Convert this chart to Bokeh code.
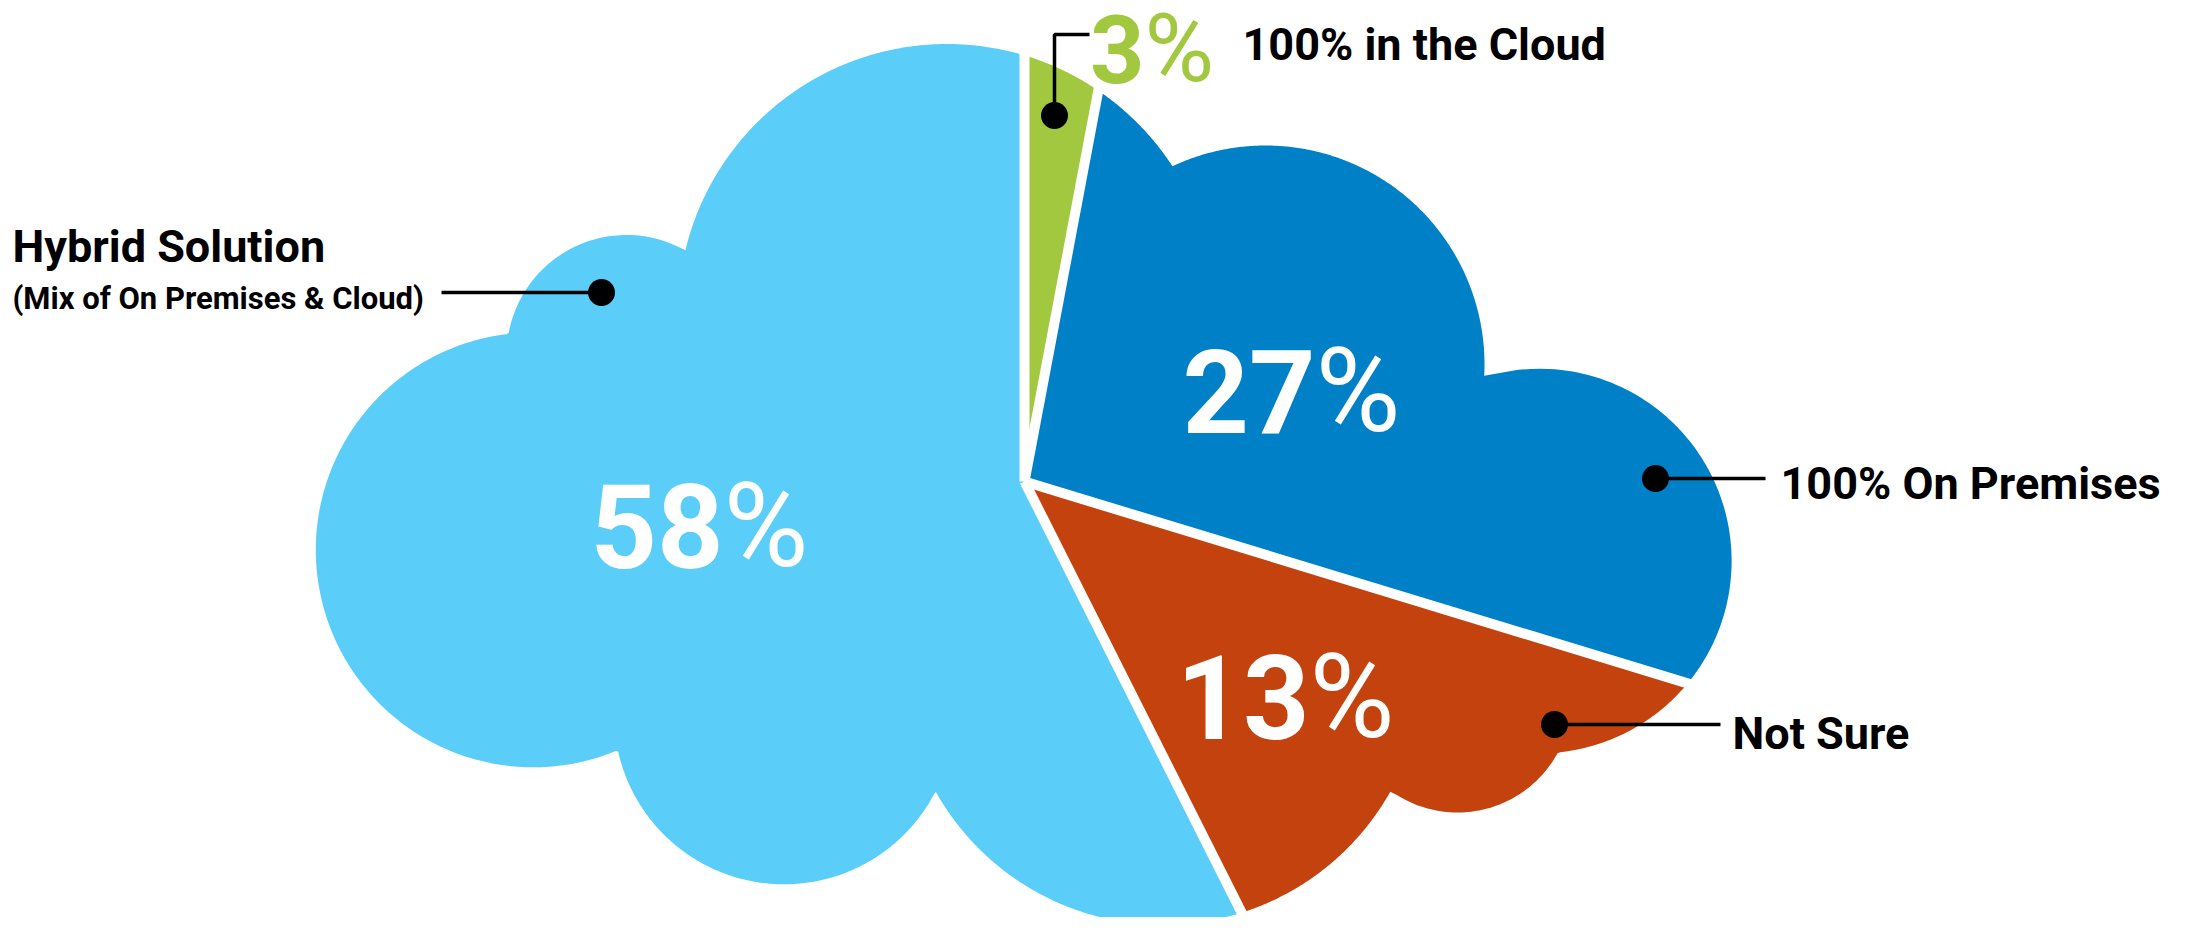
import numpy as np
from bokeh.plotting import figure
from bokeh.models import Range1d, ColumnDataSource, Label
from bokeh.core.properties import value
from bokeh.embed import file_html
from bokeh.resources import INLINE

# ---------------- data ----------------
categories = ["100% in the Cloud", "100% On Premises", "Not Sure", "Hybrid Solution"]
hybrid_note = "(Mix of On Premises & Cloud)"
percent_values = [3, 27, 13, 58]
percent_digits = ["3", "27", "13", "58"]
slice_colors = ["#A2C83F", "#0080C6", "#C4420D", "#5ACEF9"]

# ---------------- layout / style (page pixels, y measured downward) ----------------
W, H = 2169, 917
CENTER = (1032.0, 489.0)
cloud_x = np.array([954.5, 1273.0, 1546.8, 1465.0, 1170.5, 791.5, 540.7, 634.0])
cloud_y = np.array([320.5, 372.0, 568.5, 706.0, 671.7, 721.8, 557.4, 362.3])
cloud_r = np.array([269.0, 219.0, 192.3, 114.0, 260.6, 170.0, 217.4, 119.8])

FONT = "Roboto"
DESCENT = 0.25          # baseline correction, fraction of font size
BIG, SMALL, LAB, NOTE = 116, 95, 45, 31

pct_split_x = [1152, 1323, 1317, 731]
pct_base_y = [80, 427, 733, 562]

lab_x = [1250, 1788, 1740, 20]
lab_y = [63, 502, 752, 265]
note_x, note_y = 20, 314

lead_xs = [[1062, 1062, 1097], [1663, 1773], [1562, 1728], [449, 609]]
lead_ys = [[123, 42, 42], [486, 486], [732, 732], [300, 300]]
dot_x = [1062, 1663, 1562, 609]
dot_y = [123, 486, 732, 300]


def neg(v):
    return [-float(a) for a in v]


def text_y(base, size):
    return [-(float(b) - DESCENT * size) for b in base]


def edge_distance(phi):
    """distance from CENTER to cloud outline along clockwise-from-top angle phi"""
    ux, uy = np.sin(phi), -np.cos(phi)
    dx = cloud_x - CENTER[0]
    dy = cloud_y - CENTER[1]
    b = dx * ux + dy * uy
    c = dx * dx + dy * dy - cloud_r ** 2
    disc = b * b - c
    t = np.where(disc >= 0, b + np.sqrt(np.clip(disc, 0, None)), 0.0)
    return float(t.max())


p = figure(width=W, height=H, x_range=Range1d(8, 8 + W), y_range=Range1d(-(8 + H), -8),
           output_backend="svg", toolbar_location=None, min_border=0,
           x_axis_type=None, y_axis_type=None)
p.grid.visible = False
p.outline_line_color = None
p.background_fill_color = "white"
p.border_fill_color = "white"

total = float(sum(percent_values))
bounds = np.concatenate([[0.0], np.cumsum(percent_values) / total * 2 * np.pi])

xs, ys = [], []
for a0, a1 in zip(bounds[:-1], bounds[1:]):
    n = max(int((a1 - a0) / np.radians(0.2)), 8)
    phis = np.linspace(a0, a1, n)
    px = [CENTER[0]]
    py = [CENTER[1]]
    for ph in phis:
        d = edge_distance(ph)
        px.append(CENTER[0] + d * np.sin(ph))
        py.append(CENTER[1] - d * np.cos(ph))
    xs.append(px)
    ys.append(neg(py))

src = ColumnDataSource(dict(xs=xs, ys=ys, color=slice_colors, name=categories))
p.patches("xs", "ys", source=src, fill_color="color", line_color=None)

# white separators between slices
sx0, sy0, sx1, sy1 = [], [], [], []
for a in bounds[:-1]:
    d = edge_distance(a) + 6
    sx0.append(CENTER[0]); sy0.append(-CENTER[1])
    sx1.append(CENTER[0] + d * np.sin(a)); sy1.append(-(CENTER[1] - d * np.cos(a)))
p.segment(x0=sx0, y0=sy0, x1=sx1, y1=sy1, line_color="white", line_width=10)

# leaders
p.multi_line(xs=lead_xs, ys=[neg(v) for v in lead_ys], line_color="black", line_width=3.5)
p.scatter(x=dot_x, y=neg(dot_y), size=27, fill_color="black", line_color=None)

# big percent labels inside the cloud (27, 13, 58)
big = ColumnDataSource(dict(x=pct_split_x[1:], y=text_y(pct_base_y[1:], BIG),
                            t=percent_digits[1:]))
p.text(x="x", y="y", text="t", source=big, text_font=value(FONT),
       text_font_style="bold", text_font_size=f"{BIG}px", text_color="white",
       text_align="right", text_baseline="alphabetic")
p.text(x="x", y="y", text=value("%"), source=big, text_font=value(FONT),
       text_font_style="normal", text_font_size=f"{BIG}px", text_color="white",
       text_align="left", text_baseline="alphabetic")

# category labels
labs = ColumnDataSource(dict(x=lab_x, y=text_y(lab_y, LAB), t=categories))
p.text(x="x", y="y", text="t", source=labs, text_font=value(FONT),
       text_font_style="bold", text_font_size=f"{LAB}px", text_color="black",
       text_align="left", text_baseline="alphabetic")
note = ColumnDataSource(dict(x=[note_x], y=text_y([note_y], NOTE), t=[hybrid_note]))
p.text(x="x", y="y", text="t", source=note, text_font=value(FONT),
       text_font_style="bold", text_font_size=f"{NOTE}px", text_color="black",
       text_align="left", text_baseline="alphabetic")

# small "3%" label at the top edge (annotation)
small_y = text_y(pct_base_y[:1], SMALL)[0]
p.add_layout(Label(x=pct_split_x[0], y=small_y, x_units="data", y_units="data",
                   text=percent_digits[0], text_font=FONT, text_font_style="bold",
                   text_font_size=f"{SMALL}px", text_color=slice_colors[0],
                   text_align="right", text_baseline="alphabetic"))
p.add_layout(Label(x=pct_split_x[0], y=small_y, x_units="data", y_units="data",
                   text="%", text_font=FONT, text_font_style="normal",
                   text_font_size=f"{SMALL}px", text_color=slice_colors[0],
                   text_align="left", text_baseline="alphabetic"))

open("out.html", "w").write(file_html(p, INLINE))
